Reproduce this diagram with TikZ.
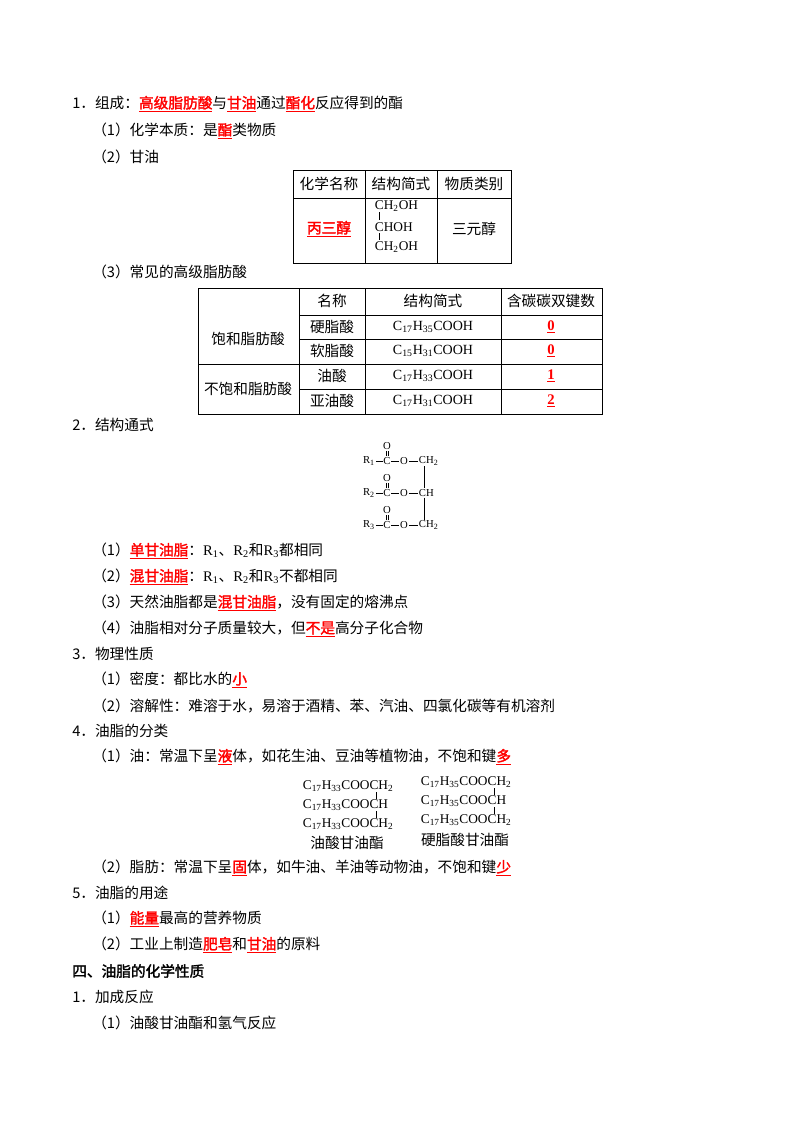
\documentclass[tikz,border=0pt]{standalone}
\usepackage{fontspec}
\setmainfont{Noto Sans CJK SC}[AutoFakeBold=2]
\newfontfamily\ser{Liberation Serif}
\usetikzlibrary{positioning}
\newcommand{\hl}[1]{\textcolor{red}{\underline{\textbf{#1}}}}
\newcommand{\chem}[1]{{\ser #1}}
\tikzset{
  line/.style={anchor=west,inner sep=0pt,font=\fontsize{11}{13}\selectfont},
  cell/.style={inner sep=0pt,font=\fontsize{11}{13}\selectfont},
  frm/.style={inner sep=0.5pt,font=\ser\fontsize{8}{9}\selectfont},
  grid/.style={line width=0.6pt},
  bond/.style={line width=0.5pt}
}
\begin{document}
\begin{tikzpicture}[x=0.75pt,y=-0.75pt]
\useasboundingbox (0,0) rectangle (800,1132);
% text lines
\node[line] (l1) at (72,104) {1．组成：\hl{高级脂肪酸}与\hl{甘油}通过\hl{酯化}反应得到的酯};
\node[line] (l2) at (92,131) {（1）化学本质：是\hl{酯}类物质};
\node[line] (l3) at (92,157) {（2）甘油};
% table 1
\draw[grid] (293,170) rectangle (511,263) (293,198) -- (511,198)
  (365,170) -- (365,263) (437,170) -- (437,263);
\node[cell] (t1a) at (329,184) {化学名称};
\node[cell] (t1b) at (401,184) {结构简式};
\node[cell] (t1c) at (474,184) {物质类别};
\node[cell] (t1d) at (329,229) {\hl{丙三醇}};
\node[cell] (t1f) at (474,229) {三元醇};
\node[frm,anchor=west,font=\ser\fontsize{10}{11}\selectfont] (g1) at (374,206) {CH\textsubscript{2}OH};
\node[frm,anchor=west,font=\ser\fontsize{10}{11}\selectfont] (g2) at (374,227) {CHOH};
\node[frm,anchor=west,font=\ser\fontsize{10}{11}\selectfont] (g3) at (374,247) {CH\textsubscript{2}OH};
\draw[bond] (379,212) -- (379,220) (379,233) -- (379,240);
\node[line] (l4) at (92,272) {（3）常见的高级脂肪酸};
% table 2
\draw[grid] (198,288) rectangle (602,414)
  (299,315) -- (602,315) (299,339) -- (602,339) (198,364) -- (602,364) (299,389) -- (602,389)
  (299,288) -- (299,414) (365,288) -- (365,414) (501,288) -- (501,414);
\node[cell] (h1) at (332,301) {名称};
\node[cell] (h2) at (433,301) {结构简式};
\node[cell] (h3) at (551,301) {含碳碳双键数};
\node[cell] (s0) at (248,339) {饱和脂肪酸};
\node[cell] (u0) at (248,389) {不饱和脂肪酸};
\foreach \y/\n/\f/\k in {327/硬脂酸/C\textsubscript{17}H\textsubscript{35}COOH/0,
                         351/软脂酸/C\textsubscript{15}H\textsubscript{31}COOH/0,
                         376/油酸/C\textsubscript{17}H\textsubscript{33}COOH/1,
                         401/亚油酸/C\textsubscript{17}H\textsubscript{31}COOH/2}{
  \node[cell] (n\y) at (332,\y) {\n};
  \node[cell,font=\ser\fontsize{10.5}{12}\selectfont] (f\y) at (433,\y) {\f};
  \node[cell,font=\ser\fontsize{11}{12}\selectfont] (k\y) at (551,\y) {\hl{\k}};
}
\node[line] (l5) at (72,425) {2．结构通式};
% general formula
\foreach \i/\y/\r in {1/461/CH\textsubscript{2},2/493/CH,3/525/CH\textsubscript{2}}{
  \node[frm] (R\i) at (369,\y) {R\textsubscript{\i}};
  \node[frm] (C\i) at (387,\y) {C};
  \node[frm] (O\i) at (404,\y) {O};
  \node[frm,anchor=west] (E\i) at (418,\y) {\r};
  \node[frm] (D\i) at (387,\y-15) {O};
  \draw[bond] (R\i) -- (C\i) -- (O\i) -- (E\i);
  \draw[bond] ([xshift=-0.8]C\i.north) -- ([xshift=-0.8]D\i.south)
              ([xshift=0.8]C\i.north) -- ([xshift=0.8]D\i.south);
}
\draw[bond] ([xshift=5]E1.south west) -- ([xshift=5]E2.north west)
            ([xshift=5]E2.south west) -- ([xshift=5]E3.north west);
\node[line] (l6) at (92,551) {（1）\hl{单甘油脂}：\chem{R\textsubscript{1}}、\chem{R\textsubscript{2}}和\chem{R\textsubscript{3}}都相同};
\node[line] (l7) at (92,577) {（2）\hl{混甘油脂}：\chem{R\textsubscript{1}}、\chem{R\textsubscript{2}}和\chem{R\textsubscript{3}}不都相同};
\node[line] (l8) at (92,603) {（3）天然油脂都是\hl{混甘油脂}，没有固定的熔沸点};
\node[line] (l9) at (92,629) {（4）油脂相对分子质量较大，但\hl{不是}高分子化合物};
\node[line] (l10) at (72,654) {3．物理性质};
\node[line] (l11) at (92,680) {（1）密度：都比水的\hl{小}};
\node[line] (l12) at (92,706) {（2）溶解性：难溶于水，易溶于酒精、苯、汽油、四氯化碳等有机溶剂};
\node[line] (l13) at (72,731) {4．油脂的分类};
\node[line] (l14) at (92,757) {（1）油：常温下呈\hl{液}体，如花生油、豆油等植物油，不饱和键\hl{多}};
% glyceride formulas
\foreach \p/\x/\y/\s in {a/302/786/33,b/420/782/35}{
  \node[frm,anchor=west,font=\ser\fontsize{10}{11}\selectfont] (\p1) at (\x,\y) {C\textsubscript{17}H\textsubscript{\s}COOCH\textsubscript{2}};
  \node[frm,anchor=west,font=\ser\fontsize{10}{11}\selectfont] (\p2) at (\x,\y+19) {C\textsubscript{17}H\textsubscript{\s}COOCH};
  \node[frm,anchor=west,font=\ser\fontsize{10}{11}\selectfont] (\p3) at (\x,\y+38) {C\textsubscript{17}H\textsubscript{\s}COOCH\textsubscript{2}};
  \draw[bond] (\x+74,\y+6) -- (\x+74,\y+13) (\x+74,\y+25) -- (\x+74,\y+32);
}
\node[cell] (an) at (347,843) {油酸甘油酯};
\node[cell] (bn) at (465,840) {硬脂酸甘油酯};
\node[line] (l15) at (92,868) {（2）脂肪：常温下呈\hl{固}体，如牛油、羊油等动物油，不饱和键\hl{少}};
\node[line] (l16) at (72,893) {5．油脂的用途};
\node[line] (l17) at (92,919) {（1）\hl{能量}最高的营养物质};
\node[line] (l18) at (92,945) {（2）工业上制造\hl{肥皂}和\hl{甘油}的原料};
\node[line] (l19) at (72,971) {\textbf{四、油脂的化学性质}};
\node[line] (l20) at (72,997) {1．加成反应};
\node[line] (l21) at (92,1023) {（1）油酸甘油酯和氢气反应};
\end{tikzpicture}
\end{document}
